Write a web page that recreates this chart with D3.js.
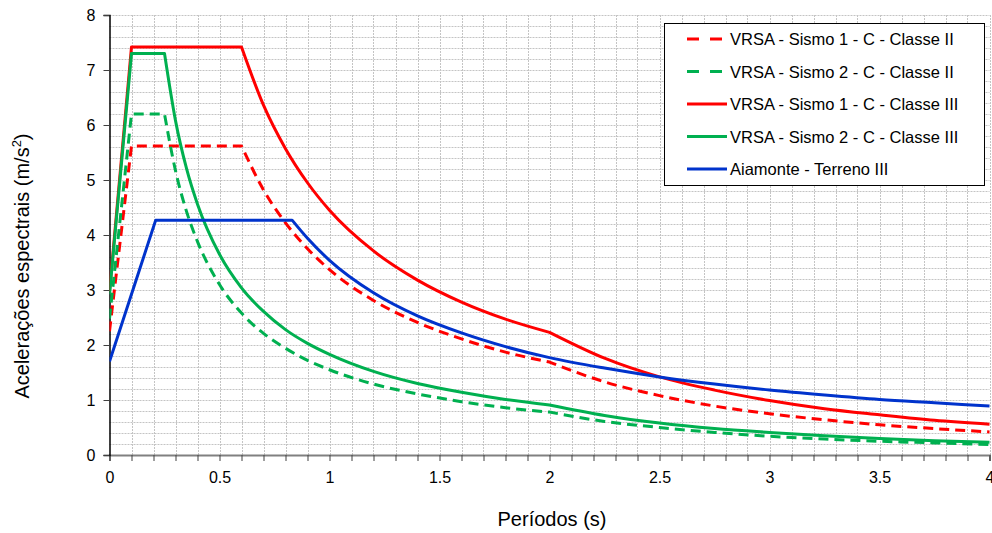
<!DOCTYPE html>
<html><head><meta charset="utf-8">
<script src="https://cdn.jsdelivr.net/npm/d3@7"></script>
<style>body{margin:0;background:#fff}svg{display:block}text{font-family:"Liberation Sans",Arial,sans-serif;fill:#000}</style>
</head><body><svg id="c" width="992" height="533"></svg>
<script>
// Data
const seriesNames = ["VRSA - Sismo 1 - C - Classe II","VRSA - Sismo 2 - C - Classe II","VRSA - Sismo 1 - C - Classe III","VRSA - Sismo 2 - C - Classe III","Aiamonte - Terreno III"];
const s1c2T = [0,0.1,0.6,0.7,0.8,0.9,1.0,1.2,1.4,1.6,1.8,2.0,2.25,2.5,2.75,3.0,3.25,3.5,3.75,4.0];
const s1c2A = [2.25,5.62,5.62,4.82,4.22,3.75,3.37,2.81,2.41,2.11,1.87,1.69,1.33,1.08,0.89,0.75,0.64,0.55,0.48,0.42];
const s2c2T = [0,0.1,0.25,0.3,0.35,0.4,0.5,0.6,0.7,0.8,0.9,1.0,1.2,1.4,1.6,1.8,2.0,2.25,2.5,2.75,3.0,3.25,3.5,3.75,4.0];
const s2c2A = [2.48,6.2,6.2,5.17,4.43,3.88,3.1,2.58,2.21,1.94,1.72,1.55,1.29,1.11,0.97,0.86,0.78,0.61,0.50,0.41,0.34,0.29,0.25,0.22,0.19];
const s1c3T = [0,0.1,0.6,0.7,0.8,0.9,1.0,1.2,1.4,1.6,1.8,2.0,2.25,2.5,2.75,3.0,3.25,3.5,3.75,4.0];
const s1c3A = [2.97,7.42,7.42,6.36,5.57,4.95,4.45,3.71,3.18,2.78,2.47,2.23,1.76,1.42,1.18,0.99,0.84,0.73,0.63,0.56];
const s2c3T = [0,0.1,0.25,0.3,0.35,0.4,0.5,0.6,0.7,0.8,0.9,1.0,1.2,1.4,1.6,1.8,2.0,2.25,2.5,2.75,3.0,3.25,3.5,3.75,4.0];
const s2c3A = [2.92,7.3,7.3,6.08,5.21,4.56,3.65,3.04,2.61,2.28,2.03,1.83,1.52,1.30,1.14,1.01,0.91,0.72,0.58,0.48,0.41,0.35,0.30,0.26,0.23];
const aiaT = [0,0.21,0.83,0.9,1.0,1.2,1.4,1.6,1.8,2.0,2.25,2.5,2.75,3.0,3.25,3.5,3.75,4.0];
const aiaA = [1.7,4.27,4.27,3.94,3.54,2.95,2.53,2.22,1.97,1.77,1.58,1.42,1.29,1.18,1.09,1.01,0.95,0.89];
// corner periods (where the spectrum branches change)
const s1Breaks = [0.1,0.6,2.0];
const s2Breaks = [0.1,0.25,2.0];
const aiaBreaks = [0.21,0.83];
const xTicks = [0,0.5,1,1.5,2,2.5,3,3.5,4];
const yTicks = [0,1,2,3,4,5,6,7,8];

const series = [
  {name:seriesNames[0],T:s1c2T,A:s1c2A,br:s1Breaks,color:"#FF0000",dash:"10,6"},
  {name:seriesNames[1],T:s2c2T,A:s2c2A,br:s2Breaks,color:"#00B050",dash:"10,6"},
  {name:seriesNames[2],T:s1c3T,A:s1c3A,br:s1Breaks,color:"#FF0000",dash:null},
  {name:seriesNames[3],T:s2c3T,A:s2c3A,br:s2Breaks,color:"#00B050",dash:null},
  {name:seriesNames[4],T:aiaT,A:aiaA,br:aiaBreaks,color:"#0033CC",dash:null}
];

const svg = d3.select("#c");
const L=109.5, R=989.5, Tp=15, B=455;
const x = d3.scaleLinear().domain([0,4]).range([L,R]);
const y = d3.scaleLinear().domain([0,8]).range([B,Tp]);

// grid
const g = svg.append("g");
const vx = d3.range(1,41).map(i=>i/10);
g.selectAll(".vg").data(vx).enter().append("line")
  .attr("x1",d=>Math.round(x(d))+0.5).attr("x2",d=>Math.round(x(d))+0.5).attr("y1",Tp).attr("y2",B)
  .attr("stroke","#c4c4c4").attr("stroke-dasharray","2,1");
const hy = d3.range(1,41).map(i=>i/5);
g.selectAll(".hg").data(hy).enter().append("line")
  .attr("y1",d=>Math.round(y(d))+0.5).attr("y2",d=>Math.round(y(d))+0.5).attr("x1",L).attr("x2",R)
  .attr("stroke","#c4c4c4").attr("stroke-dasharray","2,1");

// axes
const xAxisMinor = d3.axisBottom(x).tickValues(d3.range(0,41).map(i=>i/10)).tickSize(6).tickFormat("");
svg.append("g").attr("transform",`translate(0,${B})`).call(xAxisMinor)
  .call(a=>a.select(".domain").attr("stroke","#808080").attr("stroke-width",2))
  .call(a=>a.selectAll(".tick line").attr("stroke","#404040"));
const xAxis = d3.axisBottom(x).tickValues(xTicks).tickSize(0).tickPadding(17).tickFormat(d=>String(d));
svg.append("g").attr("transform",`translate(0,${B})`).call(xAxis)
  .call(a=>a.select(".domain").remove())
  .call(a=>a.selectAll("text").attr("font-size",16).attr("font-family","Liberation Sans, Arial, sans-serif").attr("fill","#000"));
const yAxis = d3.axisLeft(y).tickValues(yTicks).tickSize(6).tickPadding(8).tickFormat(d=>String(d));
svg.append("g").attr("transform",`translate(${L},0)`).call(yAxis)
  .call(a=>a.select(".domain").attr("stroke","#000").attr("stroke-width",1.5))
  .call(a=>a.selectAll(".tick line").attr("stroke","#404040"))
  .call(a=>a.selectAll("text").attr("font-size",16).attr("font-family","Liberation Sans, Arial, sans-serif").attr("fill","#000"));

// lines
svg.append("clipPath").attr("id","cp").append("rect").attr("x",L).attr("y",Tp-5).attr("width",R-L+3).attr("height",B-Tp+5);
const line = d3.line().x(d=>x(d[0])).y(d=>y(d[1])).curve(d3.curveMonotoneX);
const lg = svg.append("g").attr("clip-path","url(#cp)");
series.forEach(s=>{
  const pts = s.T.map((t,i)=>[t,s.A[i]]);
  const pieces=[]; let cur=[];
  pts.forEach(p=>{ cur.push(p); if(s.br.includes(p[0])){ pieces.push(cur); cur=[p]; } });
  if(cur.length>1) pieces.push(cur);
  const d = pieces.map((pc,k)=>{ const p=line(pc); return k===0?p:p.replace(/^M/,"L"); }).join("");
  lg.append("path").attr("d",d).attr("fill","none").attr("stroke",s.color)
    .attr("stroke-width",3).attr("stroke-linejoin","round")
    .attr("stroke-dasharray",s.dash);
});

// legend
const leg = svg.append("g");
leg.append("rect").attr("x",664.5).attr("y",23.5).attr("width",320).attr("height",162)
  .attr("fill","#fff").attr("stroke","#000").attr("stroke-width",1);
series.forEach((s,i)=>{
  const yy = 39 + i*32.5;
  leg.append("line").attr("x1",687).attr("x2",727).attr("y1",yy).attr("y2",yy)
    .attr("stroke",s.color).attr("stroke-width",3).attr("stroke-dasharray",s.dash?"12,11":null);
  leg.append("text").attr("x",730).attr("y",yy+6).attr("font-size",16.5).text(s.name);
});

// axis titles
svg.append("text").attr("x",552).attr("y",526).attr("text-anchor","middle").attr("font-size",20).text("Períodos (s)");
const yt = svg.append("text").attr("transform","translate(29,266) rotate(-90)").attr("text-anchor","middle").attr("font-size",20);
yt.append("tspan").text("Acelerações espectrais (m/s");
yt.append("tspan").attr("font-size",13).attr("dy",-8).text("2");
yt.append("tspan").attr("dy",8).text(")");
</script></body></html>
